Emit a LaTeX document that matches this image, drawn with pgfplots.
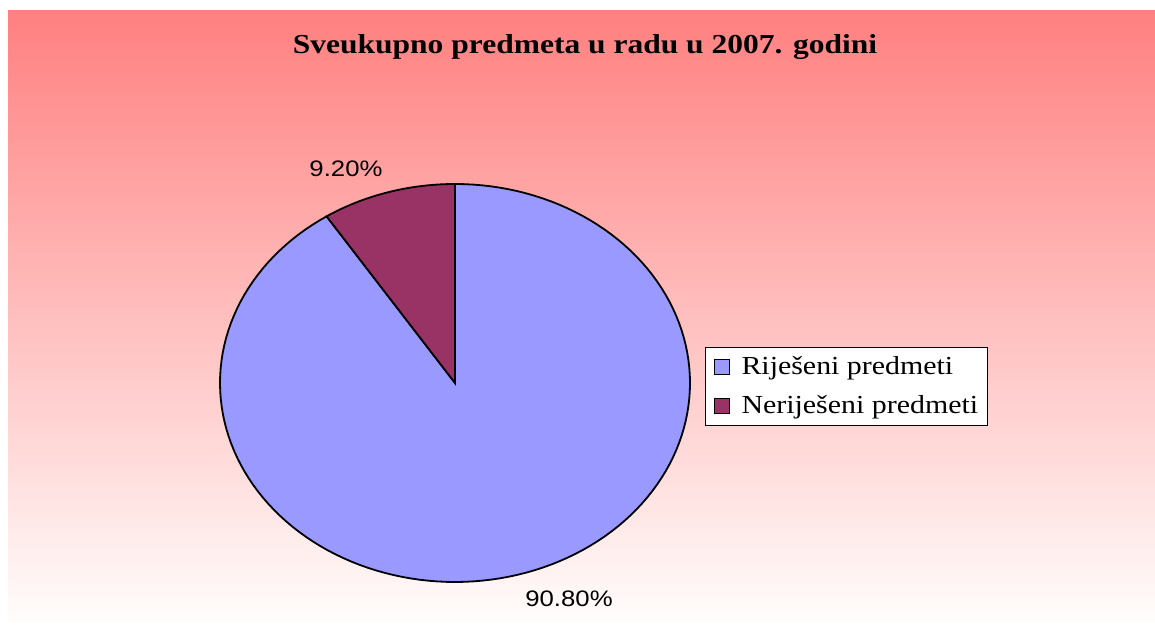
\documentclass[border=0pt]{standalone}
\usepackage{pgfplots}
\pgfplotsset{compat=1.18}
\usepackage{fontspec}
\setmainfont[FakeStretch=1.15]{Liberation Serif}
\newfontfamily\arial[FakeStretch=1.15]{Liberation Sans}
\definecolor{sliceA}{RGB}{153,153,255}
\definecolor{sliceB}{RGB}{153,51,102}
\definecolor{bgtop}{RGB}{255,128,128}
\definecolor{bgbot}{RGB}{255,253,252}
% data (percent)
\def\valA{90.8}
\def\valB{9.2}
\begin{document}
\begin{tikzpicture}
\useasboundingbox (0,0) rectangle (577.5pt,312.5pt);
\begin{axis}[at={(0,0)}, anchor=south west, scale only axis,
  width=577.5pt, height=312.5pt,
  xmin=0, xmax=1155, ymin=0, ymax=625,
  hide axis, clip=false,
  legend cell align=left,
  legend style={at={(axis cs:705,278)}, anchor=north west, draw=black, line width=0.5pt,
    fill=white, font=\fontsize{13}{15}\selectfont, row sep=6pt, inner xsep=3pt, inner ysep=3pt,
    nodes={inner sep=1.5pt}},
  legend image code/.code={\draw[#1, line width=0.6pt] (1.5pt,-3.7pt) rectangle (8.9pt,3.7pt);
    \path[draw=none, fill=none] (0pt,0pt) -- (13.5pt,0pt);},
]
\fill[top color=bgtop, bottom color=bgbot] (axis cs:8,614) rectangle (axis cs:1155,3);
\pgfmathsetmacro\angB{\valB*3.6}
\pgfmathsetmacro\startA{90+\angB}
\addplot[fill=sliceA, draw=black, line width=0.9pt, domain=\startA:450, samples=150, variable=\t]
  ({455+235*cos(\t)},{242+199*sin(\t)}) -- (axis cs:455,242) -- cycle;
\addlegendentry{Riješeni predmeti}
\addplot[fill=sliceB, draw=black, line width=0.9pt, domain=90:\startA, samples=30, variable=\t]
  ({455+235*cos(\t)},{242+199*sin(\t)}) -- (axis cs:455,242) -- cycle;
\addlegendentry{Neriješeni predmeti}
\node[font=\bfseries\fontsize{13.7}{16}\selectfont] at (axis cs:585,578) {Sveukupno predmeta u radu u 2007. godini};
\node[font=\arial\fontsize{11.2}{13}\selectfont] at (axis cs:346,456) {9.20\%};
\node[font=\arial\fontsize{11.2}{13}\selectfont] at (axis cs:569,26) {90.80\%};
\end{axis}
\end{tikzpicture}
\end{document}
